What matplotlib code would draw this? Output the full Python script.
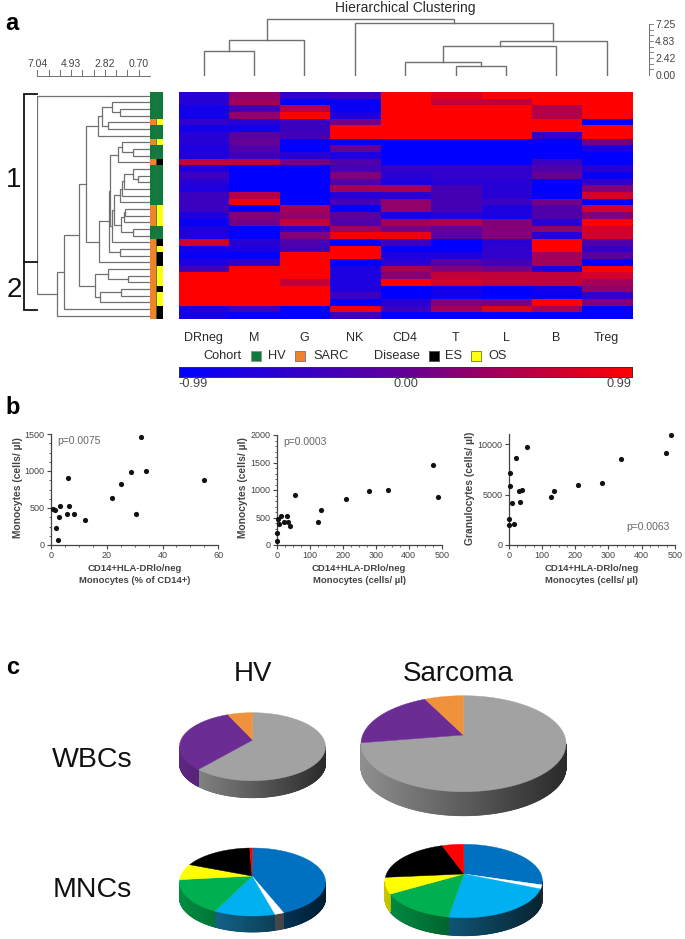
import numpy as np
import matplotlib
matplotlib.use("Agg")
import matplotlib.pyplot as plt
from matplotlib.colors import LinearSegmentedColormap, ListedColormap

plt.rcParams['font.family'] = ['Liberation Sans', 'DejaVu Sans']

# heatmap, rows top to bottom
col_names = ["DRneg", "M", "G", "NK", "CD4", "T", "L", "B", "Treg"]
heat = np.array([
    [-.6, .3, -.5, -.4, 1, .8, 1, 1, 1],
    [-.6, .4, -1, -.9, 1, .6, .6, 1, 1],
    [-.8, -.3, .5, -.9, 1, 1, 1, .5, 1],
    [-.8, .3, 1, -.7, 1, 1, 1, .5, 1],
    [-.5, -.6, -.4, .1, 1, 1, 1, 1, -1],
    [-.8, -.8, -.4, 1, 1, 1, 1, 1, 1],
    [-.6, -.1, -.3, 1, 1, 1, 1, -.5, 1],
    [-.6, 0, -1, -.9, -1, -1, -1, -1, .1],
    [-.7, -.2, -1, 0, -1, -1, -1, -1, -.7],
    [-.7, -.4, -.6, -.7, -1, -1, -1, -1, -1],
    [.6, .6, .1, -.2, -1, -1, -1, -.4, -1],
    [-.7, -1, -1, -.3, -.5, -.5, -.5, -.2, -.6],
    [-.4, -1, -1, .2, -.6, -.5, -.5, 0, -.9],
    [-.6, -1, -1, -.2, -.7, -.6, -.6, -1, -.5],
    [-.7, -1, -1, .4, .4, -.3, -.6, -1, .2],
    [-.4, .5, -1, -.6, -.6, -.3, -.6, -1, .7],
    [-.4, .9, -1, -.3, .3, -.3, -.4, .1, -1],
    [-.4, -1, .4, -1, .3, -.3, -.7, -.2, .7],
    [-.7, .2, .3, -.1, -.7, -.6, -.7, -.2, .2],
    [-.9, .1, .6, -.2, .4, .5, .2, -.6, 1],
    [-.7, -1, -.5, .4, .1, -.1, .2, .3, .7],
    [-.7, -1, .2, .9, .9, -.1, .2, -.6, .7],
    [.7, -.6, -.2, -1, -.4, -1, -.6, 1, -.2],
    [-.8, -.7, -.3, 1, -1, -1, -.5, 1, -.5],
    [-.9, -1, 1, 1, -.7, -.7, -.5, .4, -.1],
    [-.7, -.5, 1, -1, -.6, -.1, -.3, .4, -1],
    [-.3, 1, 1, -.7, .4, .2, .1, -.7, 1],
    [1, 1, 1, -.7, .2, .6, .6, .6, .7],
    [1, 1, .6, -.7, 1, .7, .6, .6, .4],
    [1, 1, 1, -.7, -1, -.8, -1, -.8, .3],
    [1, 1, 1, -.4, -1, -.8, -1, -.9, -.5],
    [1, 1, 1, -1, -.6, .2, .1, 1, .2],
    [-.7, -.4, -1, .9, -.4, .4, .8, .4, -1],
    [-.8, -.9, -1, -.4, -1, -1, -1, -1, -1],
])

# 0 HV, 1 SARC
cohort = [0,0,0,0,1,0,0,1,0,0,1,0,0,0,0,0,0,1,1,1,0,0,1,1,1,1,1,1,1,1,1,1,1,1]
# 0 HV (green), 1 ES, 2 OS
disease = [0,0,0,0,2,0,0,2,0,0,1,0,0,0,0,0,0,2,2,2,0,0,1,2,1,1,2,2,2,1,2,2,1,1]

# dendrogram merges: (a, b, height); ids past the leaves are earlier merges
col_merges = [(0, 1, 3.55), (9, 2, 5.02), (5, 6, 1.37), (4, 11, 2.04), (12, 7, 4.22),
              (13, 8, 4.93), (3, 14, 7.49), (10, 15, 8.10)]
row_merges = [
    (2, 3, 1.88), (1, 34, 2.35), (4, 5, 2.6), (35, 36, 3.02), (37, 6, 3.27),
    (8, 9, 1.04), (7, 39, 1.73), (40, 10, 2.02),
    (12, 13, 0.73), (11, 42, 1.04), (43, 14, 1.63), (44, 15, 1.77), (45, 16, 1.88),
    (17, 18, 1.56), (47, 19, 1.63), (20, 21, 1.04), (48, 49, 1.83), (46, 50, 2.25),
    (51, 22, 2.35), (41, 52, 2.5), (23, 24, 1.88), (53, 54, 2.56), (55, 25, 3.19),
    (38, 56, 4.02),
    (27, 28, 1.35), (26, 58, 2.6), (29, 30, 1.83), (60, 31, 3.13), (59, 61, 3.44),
    (57, 62, 4.44), (63, 32, 5.38), (64, 33, 5.79), (0, 65, 7.04)]

# scatter panels
x1 = [0.6, 1.4, 1.7, 2.4, 2.7, 3.2, 5.6, 6.1, 6.5, 8.4, 12.2, 21.8, 25.2, 28.6, 30.4, 32.3, 33.9, 55]
y1 = [482, 473, 225, 63, 374, 523, 423, 905, 523, 419, 333, 631, 829, 986, 423, 1459, 1000, 883]
x2 = [0, 2, 3, 8, 14, 22, 30, 33, 40, 54, 125, 135, 209, 281, 338, 474, 488]
y2 = [70, 220, 480, 375, 520, 425, 520, 420, 340, 910, 420, 630, 830, 987, 1000, 1460, 880]
x3 = [1, 1, 4, 5, 10, 15, 23, 32, 34, 40, 54, 127, 136, 209, 281, 338, 472, 487]
y3 = [2558, 1927, 7110, 5847, 4186, 2093, 8671, 5382, 4219, 5415, 9701, 4718, 5316, 5980, 6146, 8505, 9136, 10897]

# pies, clockwise from 12 o'clock
wbc_colors = ["#a2a2a2", "#6b2c94", "#f0913c"]
wbc_hv = [63.3, 31.2, 5.5]
wbc_sarc = [75.3, 18.6, 6.1]
mnc_colors = ["#0070c0", "#ffffff", "#00b0f0", "#00b050", "#ffff00", "#000000", "#ff0000"]
mnc_side = ["#0070c0", "#9a9aa0", "#1a86b8", "#00a04a", "#e0e000", "#000000", "#ff0000"]
mnc_hv = [43.0, 2.1, 13.5, 17.5, 7.4, 15.9, 0.6]
mnc_sarc = [26.7, 1.8, 24.6, 16.1, 7.4, 19.0, 4.4]

W, H = 685, 939
fig = plt.figure(figsize=(W / 100, H / 100), dpi=100)
fig.patch.set_facecolor("white")
txt = "#2a2a2a"
line = "#707070"


def px_axes(x0, y0, x1_, y1_):
    # axes from pixel box, y measured from the top
    return fig.add_axes([x0 / W, 1 - y1_ / H, (x1_ - x0) / W, (y1_ - y0) / H])


# overlay in pixels for labels and pies
ov = fig.add_axes([0, 0, 1, 1], zorder=5)
ov.set_xlim(0, W)
ov.set_ylim(H, 0)
ov.axis("off")
ov.patch.set_alpha(0)

bwr = LinearSegmentedColormap.from_list("brb", ["#0000ff", "#640096", "#ff0000"])

# main heatmap
ax = px_axes(178.5, 92.3, 632, 319)
ax.imshow(heat, cmap=bwr, vmin=-0.99, vmax=0.99, aspect="auto", interpolation="nearest")
ax.axis("off")

# cohort / disease strips
ax = px_axes(150, 92.3, 162.5, 319)
strips = np.column_stack([np.array(cohort), np.where(np.array(disease) == 0, 0, np.array(disease) + 1)])
ax.imshow(strips, cmap=ListedColormap(["#107a3c", "#f08228", "#000000", "#ffff10"]), vmin=0, vmax=3,
          aspect="auto", interpolation="nearest")
ax.axvline(0.5, color="#3a6a50", lw=0.6)
ax.axis("off")


def tree(merges, n):
    # position of every node along the leaf axis, and the bracket segments
    pos = list(np.arange(n, dtype=float))
    hts = [0.0] * n
    segs = []
    for a, b, h in merges:
        segs.append(([hts[a], h, h, hts[b]], [pos[a], pos[a], pos[b], pos[b]]))
        pos.append((pos[a] + pos[b]) / 2)
        hts.append(h)
    return segs


# row dendrogram, height 0 on the right
ax = px_axes(37.3, 92.3, 150, 319)
for h, p in tree(row_merges, 34):
    ax.plot(h, p, color=line, lw=0.9, solid_joinstyle="miter")
ax.set_xlim(7.04, 0)
ax.set_ylim(33.5, -0.5)
ax.axis("off")

# column dendrogram
ax = px_axes(178.5, 10, 632, 76)
for h, p in tree(col_merges, 9):
    ax.plot(p, h, color=line, lw=1.0, solid_joinstyle="miter")
ax.set_xlim(-0.5, 8.5)
ax.set_ylim(0, 9.31)
ax.axis("off")

# row distance scale
ax = px_axes(37.3, 60, 150, 76)
ax.set_xlim(7.04, 0)
ax.set_ylim(0, 1)
for s in ["left", "right", "top"]:
    ax.spines[s].set_visible(False)
ax.patch.set_alpha(0)
ax.spines["bottom"].set_color(line)
ax.spines["bottom"].set_linewidth(0.7)
ax.set_yticks([])
ax.set_xticks([])
for v, lab in zip([7.04, 4.93, 2.82, 0.70], ["7.04", "4.93", "2.82", "0.70"]):
    ax.text(v, 0.72, lab, ha="center", va="center", fontsize=7.5, color="#444444")
for v in np.arange(0, 7.1, 0.7037):
    ax.plot([v, v], [0, 0.38], color=line, lw=0.7)

# column distance scale
ax = px_axes(649, 24, 654.5, 75)
ax.set_ylim(0, 7.25)
ax.set_xlim(0, 1)
for s in ["right", "top", "bottom"]:
    ax.spines[s].set_visible(False)
ax.spines["left"].set_color(line)
ax.spines["left"].set_linewidth(0.7)
ax.set_xticks([])
ax.yaxis.tick_right()
ax.patch.set_alpha(0)
ax.set_yticks([0, 2.42, 4.83, 7.25], ["0.00", "2.42", "4.83", "7.25"], fontsize=7.5, color="#444444")
ax.tick_params(axis="y", length=0, pad=0.5)
for v in np.arange(0, 7.3, 7.25 / 9):
    ax.plot([0, 0.8], [v, v], color=line, lw=0.6)

ov.text(405.7, 8, "Hierarchical Clustering", ha="center", va="center", fontsize=10, color=txt)

# column names under the heatmap
ax = px_axes(178.5, 330, 632, 345)
ax.set_xlim(-0.5, 8.5)
ax.set_ylim(0, 1)
ax.axis("off")
for i, name in enumerate(col_names):
    ax.text(i, 0.27, name, ha="center", va="baseline", fontsize=9, color=txt)

# legend row
for lab, xp in [("Cohort", 222), ("HV", 277), ("SARC", 331), ("Disease", 397), ("ES", 454), ("OS", 498)]:
    ov.text(xp, 359, lab, ha="center", va="baseline", fontsize=9.2, color=txt)
ov.scatter([256, 300, 434, 476], [356, 356, 356, 356], marker="s", s=48,
           c=["#107a3c", "#f08228", "#000000", "#ffff10"],
           edgecolors=["#8a9a8a", "#8a7a8a", "#555555", "#8a8a30"], linewidths=0.7)

# colour bar
ax = px_axes(178.5, 366.7, 632, 376.7)
ax.imshow(np.linspace(-0.99, 0.99, 256)[None, :], cmap=bwr, vmin=-0.99, vmax=0.99, aspect="auto",
          extent=[-0.99, 0.99, 0, 1])
ax.set_xticks([])
ax.set_yticks([])
for s in ax.spines.values():
    s.set_linewidth(0.7)
    s.set_color("#333333")
ov.text(178.5, 384, "-0.99", ha="left", va="center", fontsize=9.2, color="#444444")
ov.text(405.7, 384, "0.00", ha="center", va="center", fontsize=9.2, color="#444444")
ov.text(631, 384, "0.99", ha="right", va="center", fontsize=9.2, color="#444444")

# cluster brackets
ov.plot([36.7, 24, 24, 36.7], [94, 94, 262, 262], color="#111111", lw=1.3, solid_joinstyle="miter")
ov.plot([24, 24, 36.7], [262, 310, 310], color="#111111", lw=1.3, solid_joinstyle="miter")
ov.text(14, 180, "1", ha="center", va="center", fontsize=20, color="#111111")
ov.text(14, 290, "2", ha="center", va="center", fontsize=20, color="#111111")

for lab, xp, yp in [("a", 12, 24), ("b", 13, 407), ("c", 13, 668)]:
    ov.text(xp, yp, lab, ha="center", va="center", fontsize=17, fontweight="bold", color="black")


def scatter_panel(box, xs, ys, xlim, ylim, xt, yt, xm, ym, ylab, ylab_x, xlab, ptxt, ppos):
    ax = px_axes(*box)
    ax.scatter(xs, ys, s=14, color="#111111", zorder=3, clip_on=False, linewidths=0)
    ax.set_xlim(*xlim)
    ax.set_ylim(*ylim)
    for s in ["right", "top"]:
        ax.spines[s].set_visible(False)
    for s in ["left", "bottom"]:
        ax.spines[s].set_color("#444444")
        ax.spines[s].set_linewidth(0.9)
    ax.set_xticks(xt)
    ax.set_yticks(yt)
    ax.set_xticks(xm, minor=True)
    ax.set_yticks(ym, minor=True)
    ax.tick_params(which="major", length=3, width=0.8, color="#444444", labelsize=6.5, labelcolor="#444444", pad=1.5)
    ax.tick_params(which="minor", length=1.5, width=0.6, color="#444444")
    ax.patch.set_alpha(0)
    ax.set_xlabel(xlab, fontsize=6.8, fontweight="bold", color="#444444", labelpad=3, linespacing=1.4)
    ax.text(ppos[0], ppos[1], ptxt, transform=ax.transAxes, fontsize=7.5, color="#666666", ha="left", va="center")
    ov.text(ylab_x, 488, ylab, rotation=90, ha="center", va="center", fontsize=7.4, fontweight="bold",
            color="#444444")


scatter_panel((51, 434, 218.3, 545), x1, y1, (0, 60), (0, 1500), [0, 20, 40, 60], [0, 500, 1000, 1500],
              np.arange(0, 61, 5), np.arange(0, 1501, 125), "Monocytes (cells/ µl)", 18,
              "CD14+HLA-DRlo/neg\nMonocytes (% of CD14+)", "p=0.0075", (0.04, 0.935))
scatter_panel((276.7, 435, 441.7, 545), x2, y2, (0, 500), (0, 2000), [0, 100, 200, 300, 400, 500],
              [0, 500, 1000, 1500, 2000], np.arange(0, 501, 25), np.arange(0, 2001, 100), "Monocytes (cells/ µl)", 243,
              "CD14+HLA-DRlo/neg\nMonocytes (cells/ µl)", "p=0.0003", (0.04, 0.935))
scatter_panel((508.7, 434.3, 675, 544.7), x3, y3, (0, 500), (0, 11000), [0, 100, 200, 300, 400, 500],
              [0, 5000, 10000], np.arange(0, 501, 25), [], "Granulocytes (cells/ µl)", 470,
              "CD14+HLA-DRlo/neg\nMonocytes (cells/ µl)", "p=0.0063", (0.71, 0.16))


def shade(color, f):
    r, g, b = matplotlib.colors.to_rgb(color)
    return (r * f, g * f, b * f)


def pie3d(cx, cy, rx, ry, depth, apex, values, colors, side_colors):
    # 3D looking pie on the pixel overlay
    edges = np.cumsum([0] + list(values)) / np.sum(values) * 2 * np.pi
    for i in range(len(values)):
        th = np.linspace(edges[i], edges[i + 1], max(3, int((edges[i + 1] - edges[i]) * 120)))
        xr = cx + rx * np.sin(th)
        yr = cy - ry * np.cos(th)
        # side wall where the rim faces the viewer
        for k in range(len(th) - 1):
            tm = (th[k] + th[k + 1]) / 2
            if np.cos(tm) > 0:
                continue
            f = 1.0 - 0.62 * (np.sin(tm) + 1) / 2 - 0.12
            ov.fill([xr[k], xr[k + 1], xr[k + 1], xr[k]],
                    [yr[k], yr[k + 1], yr[k + 1] + depth, yr[k] + depth],
                    color=shade(side_colors[i], f), lw=0.6, zorder=2)
        ov.fill(np.r_[apex[0], xr], np.r_[apex[1], yr], color=colors[i], lw=0.3, zorder=3)


ov.text(253, 674, "HV", ha="center", va="center", fontsize=20, color="#111111")
ov.text(458, 674, "Sarcoma", ha="center", va="center", fontsize=20, color="#111111")
ov.text(92, 760, "WBCs", ha="center", va="center", fontsize=20.5, color="#111111")
ov.text(92, 890, "MNCs", ha="center", va="center", fontsize=20.5, color="#111111")

pie3d(252.5, 746.7, 73, 34, 17, (252.7, 740), wbc_hv, wbc_colors, wbc_colors)
pie3d(463.5, 743.7, 102.5, 48, 24, (463.3, 735), wbc_sarc, wbc_colors, wbc_colors)
pie3d(252.5, 882, 73, 34, 16, (252, 876), mnc_hv, mnc_colors, mnc_side)
pie3d(463.7, 881, 78.7, 36.7, 18, (464, 874), mnc_sarc, mnc_colors, mnc_side)

fig.savefig("out.png", dpi=100)
